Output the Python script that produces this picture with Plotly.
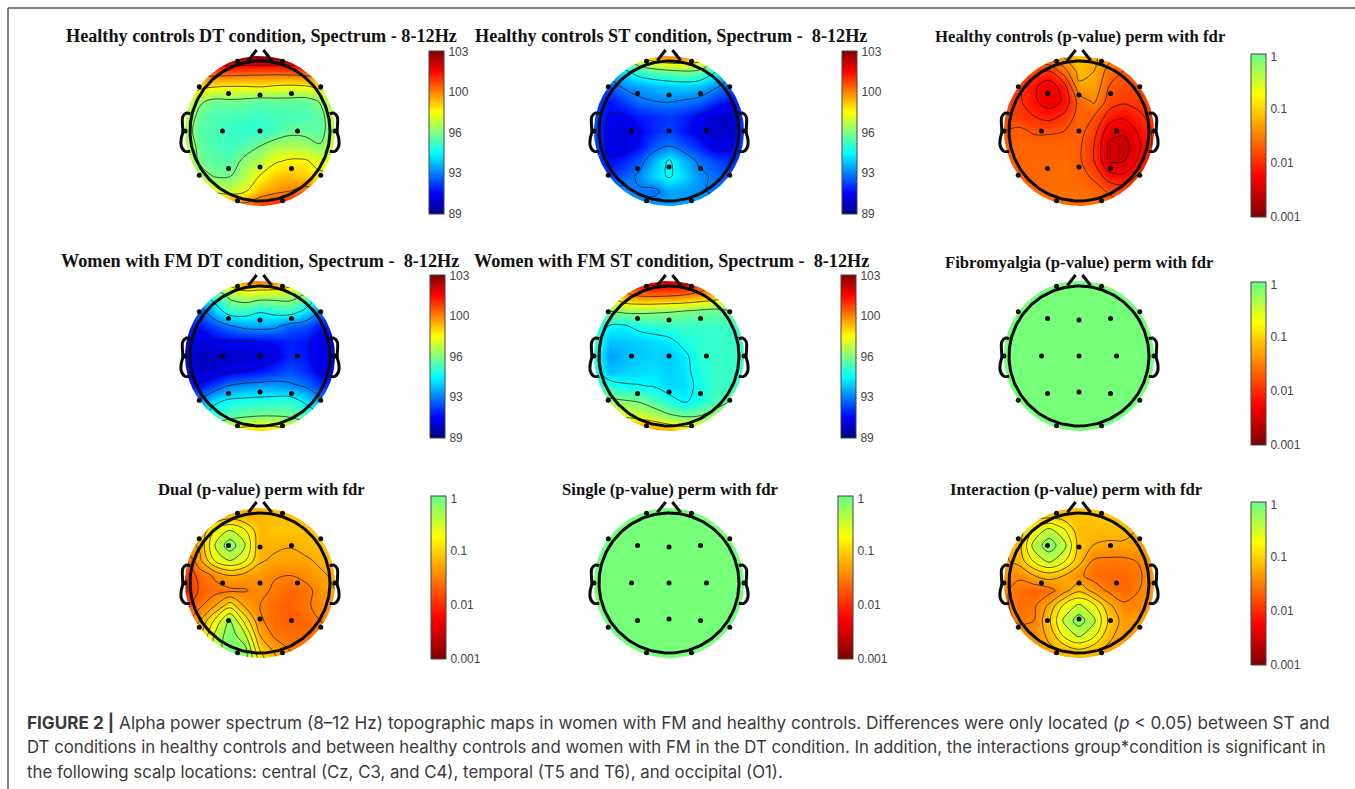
import numpy as np
import plotly.graph_objects as go

# ---------- values (rows top to bottom, columns left to right) ----------
x_grid = [-1, -.8, -.6, -.4, -.2, 0, .2, .4, .6, .8, 1]
y_even = [1, .8, .6, .4, .2, 0, -.2, -.4, -.6, -.8, -1]
y_odd = [1.1, .9, .7, .5, .3, .1, -.1, -.3, -.5, -.7, -.9, -1.1]

hc_dt = [
    [101, 102, 102.5, 103, 103, 103, 103, 103, 102.5, 102, 101],
    [100, 100.3, 100.3, 100.3, 100.2, 100.1, 100.1, 100.2, 100.3, 100.3, 100],
    [98.5, 98.2, 97.9, 97.8, 97.8, 97.9, 97.7, 97.6, 97.7, 98.2, 98.5],
    [97.5, 96.2, 95.7, 95.8, 95.7, 95.5, 95.6, 95.6, 95.5, 96.1, 97.5],
    [97.0, 95.6, 95.3, 95.2, 95.1, 95.0, 95.1, 95.2, 95.3, 95.5, 97.2],
    [96.6, 95.4, 95.2, 95.0, 94.9, 94.9, 95.2, 95.7, 95.7, 95.5, 97],
    [97, 95.6, 95.2, 95.1, 95.4, 96.0, 96.6, 96.7, 96.5, 96.1, 97.3],
    [97.3, 95.8, 95.5, 95.4, 96.3, 96.8, 97.6, 97.9, 97.9, 97.3, 97.5],
    [97.8, 96.5, 95.9, 95.95, 96.8, 97.8, 98.5, 98.7, 98.4, 98, 98],
    [99, 98.5, 97.4, 97, 97.6, 98.8, 99.2, 99.5, 100, 99.5, 99],
    [101, 101, 101, 100.5, 100, 100.5, 101, 101.5, 102, 102, 101],
]
hc_st = [
    [93, 94, 96, 98, 99, 99.5, 99.5, 99, 97, 95, 93],
    [92.5, 93, 94, 95, 95.5, 95.8, 96, 95.8, 94.5, 93, 92],
    [91.5, 92, 92.7, 93, 93.3, 93.5, 93.6, 93.4, 92.8, 92, 91.3],
    [91.6, 91, 91.6, 92.3, 92.5, 92.6, 92.4, 92.2, 91.4, 90.9, 91.6],
    [91.8, 90.7, 90.7, 91.1, 91.3, 91.5, 91.2, 90.6, 90.1, 90, 91.8],
    [91.8, 90.3, 90.2, 90.7, 91.3, 91.7, 91.0, 90.5, 90, 90, 91.8],
    [91.8, 90.4, 90.3, 90.9, 92, 92.5, 91.9, 91.2, 90.4, 90.5, 91.8],
    [91.8, 90.9, 91.2, 92.0, 93.3, 94.4, 93.3, 92.3, 91.8, 91.3, 91.8],
    [91.8, 91.5, 92.0, 92.7, 93.7, 94.4, 93.7, 92.8, 92.3, 91.8, 91.8],
    [92.8, 92.6, 92.8, 92.4, 92.2, 93, 92.9, 92.7, 92.3, 91.9, 92],
    [93, 93, 93, 93, 93, 93, 93, 93, 93, 92.5, 92],
]
hc_p = [
    [-1.7, -1.7, -1.6, -1.4, -1.2, -1.1, -1.2, -1.4, -1.6, -1.7, -1.8],
    [-1.8, -1.8, -1.85, -2.0, -1.6, -1.15, -1.25, -1.6, -1.75, -1.8, -1.8],
    [-1.9, -1.9, -2.2, -2.4, -2.1, -1.3, -1.3, -1.75, -1.8, -1.85, -1.85],
    [-1.9, -1.95, -2.2, -2.4, -2.2, -1.65, -1.45, -1.85, -1.95, -1.9, -1.85],
    [-1.85, -1.9, -2.0, -2.1, -1.95, -1.65, -1.75, -2.1, -2.2, -2.05, -1.9],
    [-1.75, -1.7, -1.78, -1.78, -1.75, -1.65, -1.9, -2.4, -2.45, -2.2, -1.95],
    [-1.7, -1.65, -1.65, -1.65, -1.65, -1.7, -2.0, -2.55, -2.6, -2.3, -1.95],
    [-1.7, -1.65, -1.65, -1.65, -1.62, -1.7, -2.0, -2.5, -2.5, -2.2, -1.95],
    [-1.75, -1.7, -1.65, -1.62, -1.6, -1.65, -1.8, -2.15, -2.2, -1.95, -1.85],
    [-1.75, -1.7, -1.65, -1.62, -1.6, -1.6, -1.65, -1.78, -1.85, -1.8, -1.7],
    [-1.7, -1.7, -1.65, -1.6, -1.6, -1.6, -1.6, -1.65, -1.7, -1.7, -1.7],
]
fm_dt = [
    [94, 95, 97, 98.5, 99.5, 99.5, 99.5, 98.5, 97, 95, 94],
    [93, 93.5, 95, 96.3, 96.8, 96.6, 96.5, 96.5, 95.8, 94, 92.5],
    [92, 92, 93.5, 95, 95, 94.4, 94.8, 95, 94, 92.5, 91.8],
    [91.2, 91, 91.8, 92.4, 92.9, 93.0, 92.8, 92, 91.8, 91, 91.2],
    [90.9, 90.2, 90.6, 90.7, 90.7, 90.8, 90.9, 91.2, 91, 90.4, 90.9],
    [90.8, 89.8, 89.9, 89.9, 90, 90.1, 90.5, 91.3, 91, 90.3, 90.8],
    [90.9, 90.0, 90.2, 90.6, 90.75, 91, 91.5, 91.8, 91.4, 90.5, 90.9],
    [91.2, 91, 91.8, 92.6, 92.9, 93, 93, 92.7, 92.4, 91.5, 91.2],
    [92.5, 92.8, 94, 94.5, 94.6, 94.7, 94.8, 94.9, 94, 93, 92],
    [93.5, 94, 95, 95.5, 95.8, 96, 96, 95.8, 95.3, 94.5, 93.5],
    [94, 95, 97, 98, 98.5, 98.5, 98.5, 98, 97, 95, 94],
]
fm_st = [
    [100, 100, 101, 101.5, 102, 102, 102, 101, 100, 100, 100],
    [97, 97.7, 99, 99.5, 99.6, 99.5, 99.3, 99, 98.6, 98, 97],
    [96, 96, 96.3, 96.3, 96.2, 96.1, 96, 95.8, 95.6, 95.9, 96],
    [95, 94.2, 94.1, 94.6, 94.8, 95, 95, 95, 95, 95, 95],
    [95, 93.4, 93.5, 93.6, 93.8, 94, 94.6, 94.9, 95, 95, 95],
    [94.8, 92.9, 93.3, 93.5, 93.6, 93.5, 94.0, 94.8, 95, 95, 94.8],
    [94.8, 93.4, 93.6, 93.8, 93.9, 93.6, 93.9, 94.7, 95, 95, 95],
    [95, 94.8, 94.4, 94.3, 94.2, 93.7, 93.8, 94.5, 95, 95, 95],
    [96.5, 96.3, 96.1, 95.9, 95.3, 94.7, 94.1, 94.6, 95.2, 95.9, 96.5],
    [98, 98, 97.5, 97.2, 96.8, 96.2, 95.9, 96, 96.6, 97.5, 98],
    [100, 100.5, 100.5, 100, 99.5, 99, 98.5, 98.5, 98, 98, 98],
]
fibro_p = [[-0.08, -0.08, -0.08], [-0.08, -0.08, -0.08], [-0.08, -0.08, -0.08]]
dual_p = [
    [-1.25, -1.25, -1.25, -1.2, -1.15, -1.1, -1.1, -1.15, -1.2, -1.2, -1.2],
    [-1.3, -1.3, -1.25, -1.15, -1.25, -1.2, -1.1, -1.1, -1.1, -1.15, -1.2],
    [-1.3, -1.22, -0.72, -0.48, -0.72, -1.18, -1.1, -1.1, -1.1, -1.1, -1.15],
    [-1.4, -1.2, -0.48, -0.1, -0.48, -1.2, -1.2, -1.24, -1.15, -1.1, -1.1],
    [-1.8, -1.3, -0.72, -0.5, -0.72, -1.22, -1.3, -1.3, -1.3, -1.2, -1.1],
    [-2.0, -1.65, -1.45, -1.25, -1.35, -1.38, -1.48, -1.5, -1.42, -1.3, -1.2],
    [-2.05, -1.7, -1.6, -1.55, -1.52, -1.42, -1.55, -1.65, -1.6, -1.4, -1.25],
    [-1.85, -1.55, -1.25, -0.85, -1.3, -1.5, -1.65, -1.7, -1.55, -1.42, -1.3],
    [-1.6, -1.25, -0.7, -0.2, -0.85, -1.45, -1.65, -1.7, -1.65, -1.5, -1.4],
    [-1.3, -1.05, -0.45, -0.1, -0.45, -1.25, -1.55, -1.6, -1.6, -1.6, -1.6],
    [-1.1, -0.9, -0.4, -0.05, -0.15, -1.0, -1.3, -1.5, -1.65, -1.7, -1.7],
    [-1.1, -0.9, -0.4, -0.05, -0.15, -0.8, -1.1, -1.4, -1.6, -1.7, -1.7],
]
single_p = [[-0.08, -0.08, -0.08], [-0.08, -0.08, -0.08], [-0.08, -0.08, -0.08]]
inter_p = [
    [-1.2, -1.2, -1.15, -1.1, -1.1, -1.1, -1.1, -1.1, -1.1, -1.15, -1.2],
    [-1.2, -1.2, -1.15, -1.12, -1.15, -1.1, -1.05, -1.05, -1.1, -1.2, -1.25],
    [-1.2, -1.15, -0.7, -0.4, -0.7, -1.15, -1.15, -1.15, -1.15, -1.28, -1.3],
    [-1.3, -1.1, -0.4, -0.12, -0.4, -1.1, -1.26, -1.3, -1.3, -1.3, -1.3],
    [-1.3, -1.15, -0.7, -0.42, -0.7, -1.15, -1.53, -1.55, -1.55, -1.48, -1.3],
    [-1.4, -1.45, -1.25, -1.12, -1.25, -1.45, -1.6, -1.65, -1.65, -1.55, -1.3],
    [-1.45, -1.6, -1.68, -1.6, -1.35, -1.05, -1.35, -1.55, -1.65, -1.5, -1.3],
    [-1.45, -1.6, -1.55, -1.2, -0.7, -0.45, -0.7, -1.2, -1.45, -1.45, -1.3],
    [-1.4, -1.55, -1.5, -1.05, -0.45, -0.12, -0.45, -1.05, -1.35, -1.3, -1.3],
    [-1.35, -1.35, -1.4, -1.2, -0.7, -0.45, -0.7, -1.2, -1.35, -1.3, -1.3],
    [-1.3, -1.3, -1.35, -1.3, -1.2, -1.05, -1.2, -1.3, -1.3, -1.3, -1.3],
    [-1.25, -1.25, -1.25, -1.25, -1.2, -1.2, -1.2, -1.25, -1.25, -1.25, -1.25],
]

electrode_x = [-.5, 0, .5, -.42, 0, .42, -.42, 0, .42, -.81, .81, -.81, .81, -.3, .3, -.3, .3, -1, 1]
electrode_y = [0, 0, 0, .5, .48, .5, -.5, -.48, -.5, .59, .59, -.59, -.59, .93, .93, -.93, -.93, 0, 0]
ear_x = [.93, .98, 1.03, 1.03, 1.05, 1.05, 1.0, .93]
ear_y = [.23, .24, .19, -.02, -.1, -.2, -.27, -.27]
nose_x = [.155, .045]
nose_y = [.94, 1.08]

spectrum_ticks = [89.05, 92.5, 96, 99.5, 102.95]
spectrum_labels = ["89", "93", "96", "100", "103"]
p_ticks = [-3, -2, -1, -0.05]
p_labels = ["0.001", "0.01", "0.1", "1"]

titles = {
    "hc_dt": "Healthy controls DT condition, Spectrum - 8-12Hz",
    "hc_st": "Healthy controls ST condition, Spectrum -\u00a0 8-12Hz",
    "hc_p": "Healthy controls (p-value) perm with fdr",
    "fm_dt": "Women with FM DT condition, Spectrum -\u00a0 8-12Hz",
    "fm_st": "Women with FM ST condition, Spectrum -\u00a0 8-12Hz",
    "fibro_p": "Fibromyalgia (p-value) perm with fdr",
    "dual_p": "Dual (p-value) perm with fdr",
    "single_p": "Single (p-value) perm with fdr",
    "inter_p": "Interaction (p-value) perm with fdr",
}
caption_lines = [
    "<b>FIGURE 2 |</b> Alpha power spectrum (8\u201312 Hz) topographic maps in women with FM and healthy controls. Differences were only located (<i>p</i> &lt; 0.05) between ST and",
    "DT conditions in healthy controls and between healthy controls and women with FM in the DT condition. In addition, the interactions group*condition is significant in",
    "the following scalp locations: central (Cz, C3, and C4), temporal (T5 and T6), and occipital (O1).",
]

# ---------- styles ----------
W, H = 1355, 789
PX = 75.0      # pixels per head unit
R = 1.2        # half axis range
HEAD = 70 / 75
JET = [[0, "#00007f"], [.125, "#0000ff"], [.375, "#00ffff"], [.5, "#80ff80"], [.625, "#ffff00"],
       [.75, "#ff8000"], [.875, "#ff0000"], [1, "#7f0000"]]
PSCALE = [[0, "#7f0000"], [.25, "#ff0000"], [.5, "#ff8000"], [.75, "#ffff00"], [1, "#66ff88"]]
SPEC = dict(zmin=89, zmax=103, colorscale=JET, start=90.75, end=101.25, size=1.75,
            tickvals=spectrum_ticks, ticktext=spectrum_labels)
PVAL = dict(zmin=-3, zmax=0, colorscale=PSCALE, start=-2.75, end=-0.25, size=0.25,
            tickvals=p_ticks, ticktext=p_labels)
BIG, SMALL = 18.2, 16.7

panels = [
    # name, z, y, scale, centre x, centre y, bar left, bar top, title centre, title y, title size
    ("hc_dt", hc_dt, y_even, SPEC, 260, 131, 429, 51, 261, 36, BIG),
    ("hc_st", hc_st, y_even, SPEC, 669, 131, 842, 51, 671, 36, BIG),
    ("hc_p", hc_p, y_even, PVAL, 1079, 131, 1251, 54, 1080, 37, SMALL),
    ("fm_dt", fm_dt, y_even, SPEC, 260, 356, 430, 275, 260, 261, BIG),
    ("fm_st", fm_st, y_even, SPEC, 669, 356, 841, 275, 671, 261, BIG),
    ("fibro_p", fibro_p, None, PVAL, 1079, 356, 1251, 282, 1079, 263, SMALL),
    ("dual_p", dual_p, y_odd, PVAL, 260, 583, 431, 496, 261, 489, SMALL),
    ("single_p", single_p, None, PVAL, 669, 583, 838, 496, 670, 489, SMALL),
    ("inter_p", inter_p, y_odd, PVAL, 1079, 583, 1251, 502, 1076, 489, SMALL),
]

fig = go.Figure()
annotations = []
layout_axes = {}
theta = np.linspace(0, 2 * np.pi, 241)
cx_unit, cy_unit = np.cos(theta), np.sin(theta)
# rectangle with a round hole: outer edge one way, inner edge the other way
mask_x = [-R, R, R, -R, -R, 0] + list(-np.sin(theta)) + [0]
mask_y = [-R, -R, R, R, -R, -R] + list(-np.cos(theta)) + [-R]

for i, (name, z, y, sc, cx, cy, bx, by, tx, ty, ts) in enumerate(panels, start=1):
    sfx = "" if i == 1 else str(i)
    xa, ya = f"x{sfx}", f"y{sfx}"
    half = R * PX
    layout_axes[f"xaxis{sfx}"] = dict(domain=[(cx - half) / W, (cx + half) / W], range=[-R, R], visible=False, fixedrange=True)
    layout_axes[f"yaxis{sfx}"] = dict(domain=[(H - cy - half) / H, (H - cy + half) / H], range=[-R, R], visible=False, fixedrange=True)

    arr = np.array(z, dtype=float)[::-1]
    if y is None:
        gx, gy = [-1.2, 0, 1.2], [-1.2, 0, 1.2]
    else:
        gx, gy = x_grid, list(y)[::-1]

    fig.add_trace(go.Heatmap(
        x=gx, y=gy, z=arr, zmin=sc["zmin"], zmax=sc["zmax"], colorscale=sc["colorscale"], zsmooth="best",
        hoverinfo="skip", xaxis=xa, yaxis=ya,
        colorbar=dict(x=bx / W, xanchor="left", y=1 - by / H, yanchor="top", thickness=15, thicknessmode="pixels",
                      len=163, lenmode="pixels", xpad=0, ypad=0, outlinecolor="#444", outlinewidth=1,
                      tickmode="array", tickvals=sc["tickvals"], ticktext=sc["ticktext"], ticks="outside", ticklen=2,
                      tickcolor="rgba(0,0,0,0)", ticklabelposition="outside",
                      tickfont=dict(family="Liberation Sans", size=12, color="#444"))))
    if np.ptp(arr) > 0:
        fig.add_trace(go.Contour(
            x=gx, y=gy, z=arr, autocontour=False, showscale=False, hoverinfo="skip", xaxis=xa, yaxis=ya,
            contours=dict(coloring="none", start=sc["start"], end=sc["end"], size=sc["size"]),
            line=dict(color="rgba(25,25,25,0.72)", width=1, smoothing=1)))
    # white mask round the scalp
    fig.add_trace(go.Scatter(x=mask_x, y=mask_y, mode="lines", fill="toself", fillcolor="white",
                             line=dict(width=0, color="white"), hoverinfo="skip", showlegend=False, xaxis=xa, yaxis=ya))
    # head outline, nose and ears
    line = dict(color="#0a0a0a", width=3)
    fig.add_trace(go.Scatter(x=HEAD * cx_unit, y=HEAD * cy_unit, mode="lines", line=line, hoverinfo="skip", showlegend=False, xaxis=xa, yaxis=ya))
    for sx in (-1, 1):
        fig.add_trace(go.Scatter(x=[sx * v for v in ear_x], y=ear_y, mode="lines", line=dict(color="#0a0a0a", width=3, shape="spline"),
                                 hoverinfo="skip", showlegend=False, xaxis=xa, yaxis=ya))
        fig.add_trace(go.Scatter(x=[sx * v for v in nose_x], y=nose_y, mode="lines", line=line, hoverinfo="skip", showlegend=False, xaxis=xa, yaxis=ya))
    fig.add_trace(go.Scatter(x=electrode_x, y=electrode_y, mode="markers", marker=dict(size=5, color="#0a0a0a"),
                             hoverinfo="skip", showlegend=False, xaxis=xa, yaxis=ya))
    annotations.append(dict(text=f"<b>{titles[name]}</b>", x=tx / W, y=1 - ty / H, xref="paper", yref="paper",
                            xanchor="center", yanchor="middle", showarrow=False,
                            font=dict(family="Liberation Serif", size=ts, color="#111")))

for line_text, ly, fs in zip(caption_lines, [722, 747, 772], [17.15, 16.8, 16.8]):
    annotations.append(dict(text=line_text, x=25 / W, y=1 - ly / H, xref="paper", yref="paper", xanchor="left",
                            yanchor="middle", showarrow=False, align="left",
                            font=dict(family="Inter", size=fs, color="#3a3a3a")))

frame = dict(type="line", xref="paper", yref="paper", line=dict(color="#555", width=1.5))
shapes = [dict(frame, x0=8 / W, x1=1, y0=1 - 8 / H, y1=1 - 8 / H),
          dict(frame, x0=8 / W, x1=8 / W, y0=0, y1=1 - 8 / H)]

fig.update_layout(width=W, height=H, autosize=False, margin=dict(l=0, r=0, t=0, b=0), paper_bgcolor="white",
                  plot_bgcolor="white", showlegend=False, annotations=annotations, shapes=shapes, **layout_axes)
fig.write_html("out.html", config={"displayModeBar": False},
               post_script="document.body.style.margin='0';document.body.style.overflow='hidden';")
